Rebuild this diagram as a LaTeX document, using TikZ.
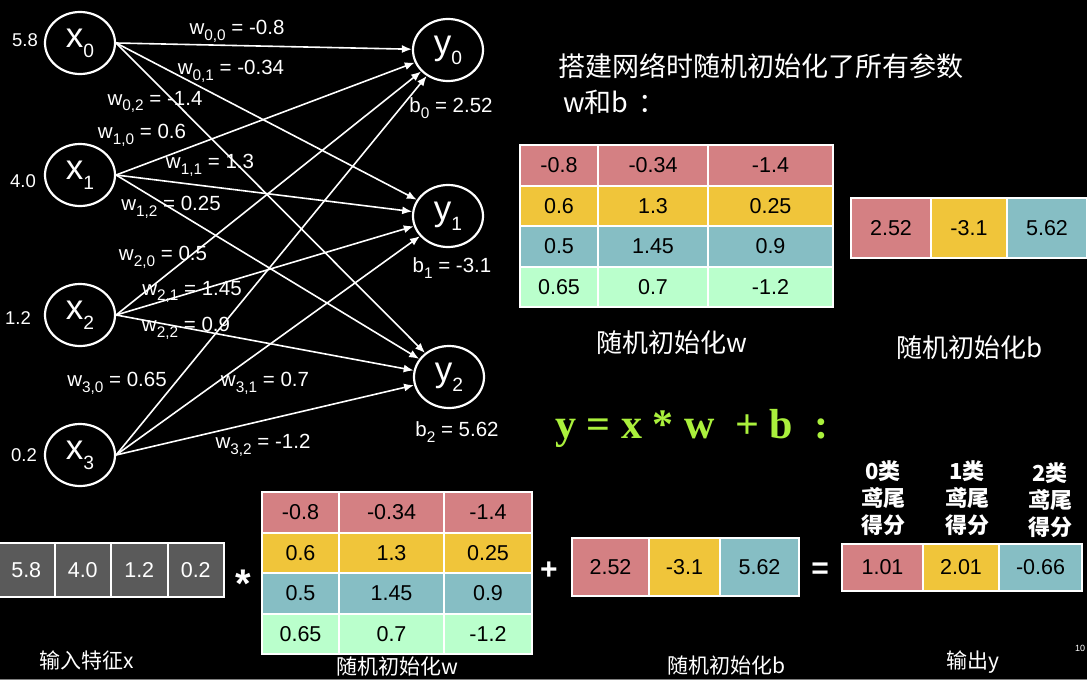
\documentclass[tikz,border=0pt]{standalone}
\usepackage{fontspec}
\setmainfont{Liberation Sans}
\newfontfamily\cjk{Noto Sans CJK SC}
\newfontfamily\formfont{Liberation Serif}
\usepackage{graphicx}
\usepackage{xcolor}
\usetikzlibrary{shapes.geometric, arrows.meta, positioning}

\definecolor{cred}{RGB}{212,128,131}
\definecolor{cyel}{RGB}{240,197,58}
\definecolor{cteal}{RGB}{134,190,196}
\definecolor{cgrn}{RGB}{186,255,204}
\definecolor{cgray}{RGB}{90,90,90}
\definecolor{formgreen}{RGB}{170,240,60}

\newcommand{\lo}[2][0.75]{\raisebox{-0.28em}{\scalebox{#1}{#2}}}

\begin{document}
\begin{tikzpicture}[x=1pt, y=-1pt,
  neuron/.style={ellipse, draw=white, line width=2.2, minimum width=70, minimum height=62, inner sep=0, text=white, font=\fontsize{35}{37}\selectfont},
  conn/.style={white, line width=1.6, -{Latex[length=10pt, width=8pt]}},
  wlab/.style={text=white, inner sep=1, font=\fontsize{20.5}{22}\selectfont},
  inlab/.style={text=white, inner sep=1, font=\fontsize{18.5}{20}\selectfont},
  cell/.style={draw=white, line width=2, inner sep=0, outer sep=0, anchor=north west, text=black, font=\fontsize{21.5}{23}\selectfont},
  op/.style={text=white, inner sep=0, font=\bfseries\fontsize{30}{30}\selectfont},
  cjklab/.style={text=white, inner sep=1, font=\cjk\fontsize{21}{25}\selectfont},
  hdr/.style={text=white, inner sep=1, align=center, font=\cjk\bfseries\fontsize{22}{27}\selectfont}
]
  \useasboundingbox (0,0) rectangle (1087,680);
  \fill[black] (0,0) rectangle (1087,680);
  \draw[gray, line width=1] (0,679) -- (1087,679);

  % network
  \node[neuron] (x0) at (80,43) {x\lo[0.55]{0}};
  \node[neuron] (x1) at (80,175) {x\lo[0.55]{1}};
  \node[neuron] (x2) at (80,315) {x\lo[0.55]{2}};
  \node[neuron] (x3) at (80,455) {x\lo[0.55]{3}};
  \node[neuron] (y0) at (448,50) {y\lo[0.55]{0}};
  \node[neuron] (y1) at (448,216) {y\lo[0.55]{1}};
  \node[neuron] (y2) at (449,377) {y\lo[0.55]{2}};

  \foreach \i in {0,...,3}
    \foreach \j in {0,1,2}
      \draw[conn] (x\i.east) -- (y\j);

  \node[inlab] (in0) at (25,40) {5.8};
  \node[inlab] (in1) at (23,181) {4.0};
  \node[inlab] (in2) at (18,318) {1.2};
  \node[inlab] (in3) at (24,455) {0.2};

  \node[wlab] (w00) at (237,31) {w\lo{0,0} = -0.8};
  \node[wlab] (w01) at (231,71) {w\lo{0,1} = -0.34};
  \node[wlab] (w02) at (155,102) {w\lo{0,2} = -1.4};
  \node[wlab] (w10) at (142,135) {w\lo{1,0} = 0.6};
  \node[wlab] (w11) at (210,165) {w\lo{1,1} = 1.3};
  \node[wlab] (w12) at (171,207) {w\lo{1,2} = 0.25};
  \node[wlab] (w20) at (163,257) {w\lo{2,0} = 0.5};
  \node[wlab] (w21) at (192,292) {w\lo{2,1} = 1.45};
  \node[wlab] (w22) at (186,328) {w\lo{2,2} = 0.9};
  \node[wlab] (w30) at (117,383) {w\lo{3,0} = 0.65};
  \node[wlab] (w31) at (265,383) {w\lo{3,1} = 0.7};
  \node[wlab] (w32) at (263,445) {w\lo{3,2} = -1.2};

  \node[wlab] (bias0) at (451,108) {b\lo{0} = 2.52};
  \node[wlab] (bias1) at (452,268) {b\lo{1} = -3.1};
  \node[wlab] (bias2) at (457,432) {b\lo{2} = 5.62};

  % top right
  \node[text=white, anchor=west, align=left, inner sep=0, font=\cjk\fontsize{27}{36}\selectfont] (title) at (558,84)
    {搭建网络时随机初始化了所有参数\\\hspace{5pt}w和b\hspace{10pt}：};

  \foreach \col/\va/\vb/\vc [count=\r from 0] in {cred/-0.8/-0.34/-1.4, cyel/0.6/1.3/0.25, cteal/0.5/1.45/0.9, cgrn/0.65/0.7/-1.2}{
    \node[cell, fill=\col, minimum width=78, minimum height=40.5] (twa\r) at (520,145+40.5*\r) {\va};
    \node[cell, fill=\col, minimum width=110, minimum height=40.5] (twb\r) at (twa\r.north east) {\vb};
    \node[cell, fill=\col, minimum width=125, minimum height=40.5] (twc\r) at (twb\r.north east) {\vc};
  }
  \node[cell, fill=cred, minimum width=80, minimum height=60] (tb0) at (851,198) {2.52};
  \node[cell, fill=cyel, minimum width=76, minimum height=60] (tb1) at (tb0.north east) {-3.1};
  \node[cell, fill=cteal, minimum width=80, minimum height=60] (tb2) at (tb1.north east) {5.62};

  \node[cjklab, font=\cjk\fontsize{26}{30}\selectfont] (twlab) at (672,343) {随机初始化w};
  \node[cjklab, font=\cjk\fontsize{26}{30}\selectfont] (tblab) at (970,348) {随机初始化b};

  \node[text=formgreen, anchor=west, inner sep=0, font=\formfont\bfseries\fontsize{42}{44}\selectfont] (formula) at (555,428)
    {y = x * w\ \ + b\ \ :};

  % bottom row
  \foreach \v [count=\i from 0] in {5.8,4.0,1.2,0.2}
    \node[cell, fill=cgray, text=white, minimum width=56.5, minimum height=54] (xv\i) at (-2+56.5*\i,543) {\v};

  \node[op, font=\bfseries\fontsize{40}{40}\selectfont] (times) at (243,584) {*};

  \foreach \col/\va/\vb/\vc [count=\r from 0] in {cred/-0.8/-0.34/-1.4, cyel/0.6/1.3/0.25, cteal/0.5/1.45/0.9, cgrn/0.65/0.7/-1.2}{
    \node[cell, fill=\col, minimum width=77, minimum height=40.5] (bwa\r) at (262,492+40.5*\r) {\va};
    \node[cell, fill=\col, minimum width=105, minimum height=40.5] (bwb\r) at (bwa\r.north east) {\vb};
    \node[cell, fill=\col, minimum width=88, minimum height=40.5] (bwc\r) at (bwb\r.north east) {\vc};
  }

  \node[op] (plus) at (549,571) {+};

  \node[cell, fill=cred, minimum width=77, minimum height=58] (bb0) at (572,538) {2.52};
  \node[cell, fill=cyel, minimum width=71, minimum height=58] (bb1) at (bb0.north east) {-3.1};
  \node[cell, fill=cteal, minimum width=79, minimum height=58] (bb2) at (bb1.north east) {5.62};

  \node[op] (equals) at (820,571) {=};

  \node[cell, fill=cred, minimum width=81, minimum height=47] (out0) at (842,544) {1.01};
  \node[cell, fill=cyel, minimum width=76, minimum height=47] (out1) at (out0.north east) {2.01};
  \node[cell, fill=cteal, minimum width=83, minimum height=47] (out2) at (out1.north east) {-0.66};

  \node[hdr] (h0) at (883,498) {0类\\鸢尾\\得分};
  \node[hdr] (h1) at (967,498) {1类\\鸢尾\\得分};
  \node[hdr] (h2) at (1050,500) {2类\\鸢尾\\得分};

  \node[cjklab] (xlab) at (87,660) {输入特征x};
  \node[cjklab] (bwlab) at (397,667) {随机初始化w};
  \node[cjklab] (bblab) at (726,666) {随机初始化b};
  \node[cjklab] (ylab) at (973,662) {输出y};

  \node[text=white, inner sep=0, font=\fontsize{9}{9}\selectfont] (pnum) at (1080,648) {10};
\end{tikzpicture}
\end{document}
